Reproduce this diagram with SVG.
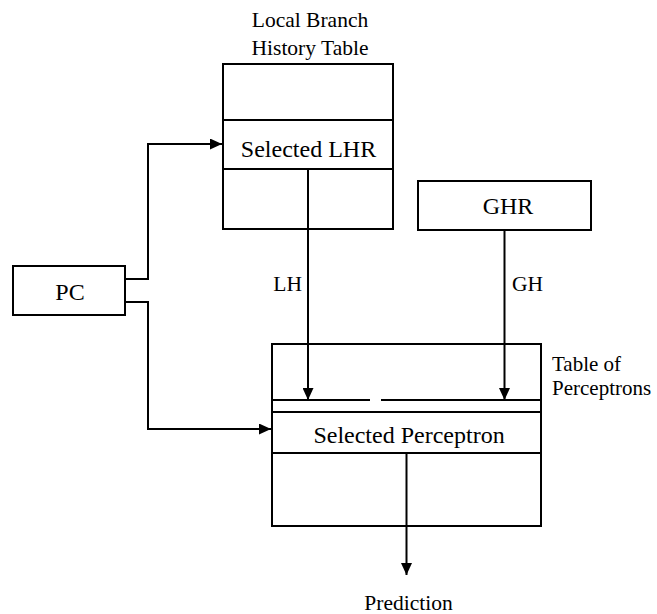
<svg xmlns="http://www.w3.org/2000/svg" width="657" height="614" viewBox="0 0 657 614">
<style>
.box{fill:none;stroke:#000;stroke-width:2}
.ln{fill:none;stroke:#000;stroke-width:2}
text{font-family:'Liberation Serif','Times New Roman','DejaVu Serif',serif;fill:#000}
.big{font-size:24px}
.sm{font-size:21.5px}
.tp{font-size:21px}
</style>
<defs>
<marker id="ah" viewBox="0 0 12 11" refX="12" refY="5.5" markerWidth="12" markerHeight="11" markerUnits="userSpaceOnUse" orient="auto">
<path d="M0,0 L12,5.5 L0,11 Z" fill="#000"/>
</marker>
</defs>
<rect width="657" height="614" fill="#fff"/>
<g id="lbht">
<rect class="box" x="223" y="64" width="170" height="165"/>
<line class="ln" x1="223" y1="120" x2="393" y2="120"/>
<line class="ln" x1="223" y1="169" x2="393" y2="169"/>
<text class="sm" x="310" y="27" text-anchor="middle">Local Branch</text>
<text class="sm" x="310" y="55" text-anchor="middle">History Table</text>
<text class="big" x="308.5" y="157" text-anchor="middle">Selected LHR</text>
</g>
<g id="ghr">
<rect class="box" x="418" y="181" width="173" height="49"/>
<text class="big" x="508" y="214" text-anchor="middle">GHR</text>
</g>
<g id="pc">
<rect class="box" x="13" y="266" width="112" height="49"/>
<text class="big" x="70" y="300" text-anchor="middle">PC</text>
</g>
<g id="perceptrons">
<rect class="box" x="272" y="344" width="269" height="182"/>
<line class="ln" x1="272" y1="400" x2="370" y2="400"/>
<line class="ln" x1="381" y1="400" x2="541" y2="400"/>
<line class="ln" x1="272" y1="412" x2="541" y2="412"/>
<line class="ln" x1="272" y1="453" x2="541" y2="453"/>
<text class="big" x="409" y="443" text-anchor="middle">Selected Perceptron</text>
<text class="tp" x="552" y="371">Table of</text>
<text class="tp" x="552" y="394.5">Perceptrons</text>
</g>
<g id="prediction">
<text class="sm" x="408.5" y="610" text-anchor="middle">Prediction</text>
</g>
<g id="connectors">
<polyline class="ln" points="125,279 148,279 148,144 222,144" marker-end="url(#ah)"/>
<polyline class="ln" points="125,302 148,302 148,429 271,429" marker-end="url(#ah)"/>
<line class="ln" x1="308" y1="169" x2="308" y2="400" marker-end="url(#ah)"/>
<line class="ln" x1="504.5" y1="230" x2="504.5" y2="400" marker-end="url(#ah)"/>
<line class="ln" x1="406.5" y1="453" x2="406.5" y2="575" marker-end="url(#ah)"/>
<text class="sm" x="302" y="291" text-anchor="end">LH</text>
<text class="sm" x="512" y="291">GH</text>
</g>
</svg>
